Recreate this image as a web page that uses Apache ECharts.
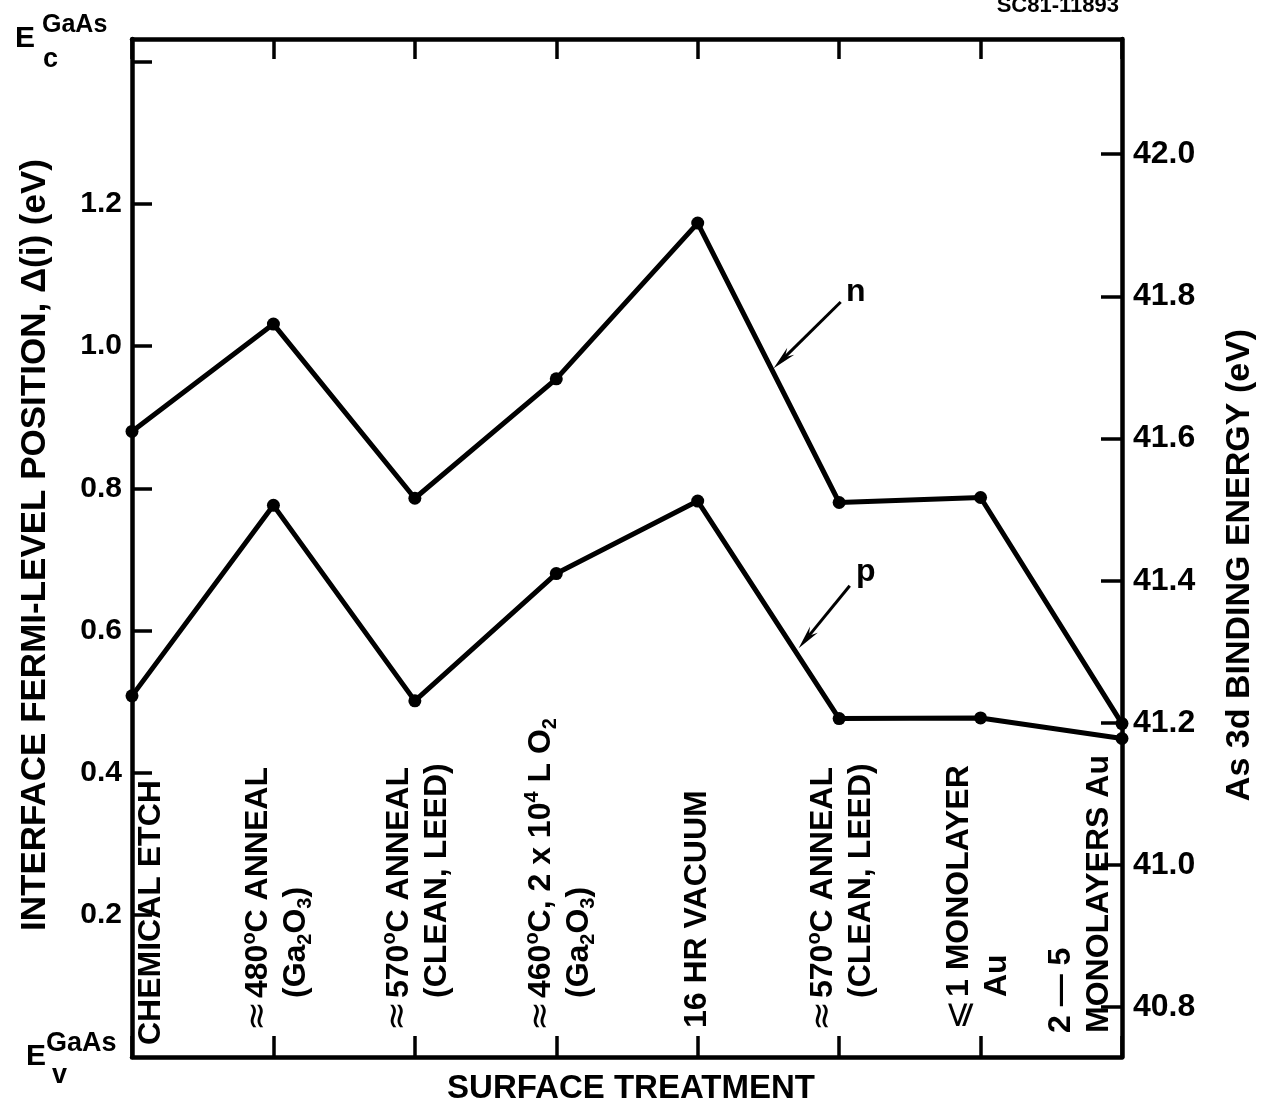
<!DOCTYPE html>
<html>
<head>
<meta charset="utf-8">
<script src="https://cdn.jsdelivr.net/npm/echarts@6/dist/echarts.min.js"></script>
<style>
  html, body { margin: 0; padding: 0; background: #fff; }
  #chart { width: 1263px; height: 1110px; }
</style>
</head>
<body>
<div id="chart"></div>
<script>
// Surface treatments, in the order they were applied
const categories = [
  'CHEMICAL ETCH',
  '≈ 480°C ANNEAL (Ga2O3)',
  '≈ 570°C ANNEAL (CLEAN, LEED)',
  '≈ 460°C, 2 x 10^4 L O2 (Ga2O3)',
  '16 HR VACUUM',
  '≈ 570°C ANNEAL (CLEAN, LEED)',
  '⩽ 1 MONOLAYER Au',
  '2 – 5 MONOLAYERS Au'
];

// Rotated category captions: optional prefix symbol, then one or two lines (rich text)
const categoryPrefix = ['', '≈', '≈', '≈', '', '≈', '⩽', ''];
const categoryLines = [
  ['CHEMICAL ETCH'],
  ['480{sup|o}C ANNEAL', '(Ga{sub|2}O{sub|3})'],
  ['570{sup|o}C ANNEAL', '(CLEAN, LEED)'],
  ['460{sup|o}C, 2 x 10{sup|4} L O{sub|2}', '(Ga{sub|2}O{sub|3})'],
  ['16 HR VACUUM'],
  ['570{sup|o}C ANNEAL', '(CLEAN, LEED)'],
  ['1 MONOLAYER', 'Au'],
  ['2 — 5', 'MONOLAYERS Au']
];

// Interface Fermi-level position Δ(i) in eV above E_v (GaAs)
const nType = [0.880, 1.031, 0.786, 0.954, 1.173, 0.780, 0.787, 0.469];
const pType = [0.508, 0.776, 0.501, 0.680, 0.782, 0.476, 0.477, 0.448];

// Axis tick labels
const fermiTickLabels = ['0.2', '0.4', '0.6', '0.8', '1.0', '1.2'];
const bindingTickLabels = ['40.8', '41.0', '41.2', '41.4', '41.6', '41.8', '42.0'];

// GaAs band gap sets the top of the Fermi-level scale; the As 3d scale is offset from it
const bandGap = 1.432;
const bindingMin = 40.730;

const FONT = "'Liberation Sans', Arial, Helvetica, sans-serif";
const chart = echarts.init(document.getElementById('chart'), null, { renderer: 'canvas' });

const axisLineStyle = { color: '#000', width: 4.5 };
const tickStyle = { color: '#000', width: 3.5 };

const lineSeries = (name, values) => ({
  name,
  type: 'line',
  data: values.map((v, i) => [i, v]),
  symbol: 'circle',
  symbolSize: 13,
  lineStyle: { color: '#000', width: 5 },
  itemStyle: { color: '#000' },
  z: 3,
  animation: false
});

const frameAxis = (extra, tickLen) => Object.assign({
  axisLine: { show: true, onZero: false, lineStyle: axisLineStyle },
  axisTick: { show: true, inside: true, length: tickLen, lineStyle: tickStyle },
  splitLine: { show: false }
}, extra);

chart.setOption({
  animation: false,
  backgroundColor: '#fff',
  grid: { left: 132, right: 141, top: 39, bottom: 53, outerBoundsMode: 'none' },
  xAxis: [
    frameAxis({
      type: 'value', min: 0, max: categories.length - 1, interval: 1, position: 'bottom',
      axisLabel: { show: false }
    }, 21),
    frameAxis({
      type: 'value', min: 0, max: categories.length - 1, interval: 1, position: 'top',
      axisLabel: { show: false }
    }, 20)
  ],
  yAxis: [
    frameAxis({
      type: 'value', min: 0, max: bandGap, interval: 0.2, position: 'left',
      axisLabel: {
        show: true, margin: 10, color: '#000', fontSize: 30, fontWeight: 'bold', fontFamily: FONT,
        showMinLabel: false, showMaxLabel: false,
        formatter: v => { const s = v.toFixed(1); return fermiTickLabels.includes(s) ? s : ''; }
      }
    }, 20),
    frameAxis({
      type: 'value', min: bindingMin, max: bindingMin + bandGap, splitNumber: 7, position: 'right',
      axisLabel: {
        show: true, margin: 11, color: '#000', fontSize: 32, fontWeight: 'bold', fontFamily: FONT,
        showMinLabel: false, showMaxLabel: false,
        formatter: v => { const s = v.toFixed(1); return bindingTickLabels.includes(s) ? s : ''; }
      }
    }, 21)
  ],
  series: [lineSeries('n', nType), lineSeries('p', pType)]
});

// ---- text and annotations placed through the axes ----
const toPx = (x, y) => chart.convertToPixel({ xAxisIndex: 0, yAxisIndex: 0 }, [x, y]);
const axisY = toPx(0, 0)[1];
const graphics = [];

const txt = (text, x, y, size, opts = {}) => Object.assign({
  type: 'text', x, y, silent: true, z: 10,
  style: Object.assign({
    text, fill: '#000', fontFamily: FONT, fontWeight: 'bold', fontSize: size,
    align: 'left', textAlign: 'left', verticalAlign: 'middle', textVerticalAlign: 'middle'
  }, opts.style || {})
}, opts.el || {});

// Category captions, rotated to read upward from the bottom axis
const captionShift = [19, 4, 3, 4, -1, 3, -2, -42];   // block centre relative to tick, px
const captionRise = [12, 59, 59, 59, 29, 59, 60, 24]; // start of text above the axis, px
const richSub = {
  sup: { fontSize: 20, fontWeight: 'bold', fontFamily: FONT, verticalAlign: 'top', lineHeight: 38 },
  sub: { fontSize: 20, fontWeight: 'bold', fontFamily: FONT, verticalAlign: 'bottom', lineHeight: 38 }
};
categories.forEach((c, i) => {
  const tx = toPx(i, 0)[0];
  const lines = categoryLines[i];
  const cx = tx + captionShift[i];
  const startY = axisY - captionRise[i];
  const lineH = 38;
  graphics.push(txt(lines.join('\n'), cx, startY, 32, {
    el: { rotation: Math.PI / 2 },
    style: { lineHeight: lineH, rich: richSub }
  }));
  if (categoryPrefix[i]) {
    const firstLineX = cx - (lines.length - 1) * lineH / 2;
    graphics.push(txt(categoryPrefix[i], firstLineX, startY + 33, 36, {
      el: { rotation: Math.PI / 2 },
      style: { fontWeight: 'normal', fontFamily: "'DejaVu Sans', " + FONT }
    }));
  }
});

// Band-edge labels
graphics.push(txt('E', 15, 39, 30));
graphics.push(txt('GaAs', 42, 25, 25));
graphics.push(txt('c', 43, 60, 27));
const ev = axisY;
graphics.push(txt('E', 26, ev, 30));
graphics.push(txt('GaAs', 46, ev - 13, 27));
graphics.push(txt('v', 52, ev + 19, 27));

// Axis titles
graphics.push(txt('INTERFACE FERMI-LEVEL POSITION, Δ(i) (eV)', 35, 545, 35, {
  el: { rotation: Math.PI / 2 }, style: { align: 'center', textAlign: 'center' }
}));
graphics.push(txt('As 3d BINDING ENERGY (eV)', 1240, 565, 34, {
  el: { rotation: Math.PI / 2 }, style: { align: 'center', textAlign: 'center' }
}));
graphics.push(txt('SURFACE TREATMENT', 631, 1089, 33, {
  style: { align: 'center', textAlign: 'center' }
}));
graphics.push(txt('SC81-11893', 1119, 6, 22, {
  style: { align: 'right', textAlign: 'right' }
}));

// Curve identifiers with arrows pointing at each curve
const callouts = [
  { label: 'n', at: [5.117, 1.076], from: [5.011, 1.062], to: [4.537, 0.969] },
  { label: 'p', at: [5.188, 0.682], from: [5.075, 0.663], to: [4.714, 0.575] }
];
callouts.forEach(co => {
  const [lx, ly] = toPx(co.at[0], co.at[1]);
  graphics.push(txt(co.label, lx, ly, 32, { style: { align: 'center', textAlign: 'center' } }));
  const a = toPx(co.from[0], co.from[1]);
  const b = toPx(co.to[0], co.to[1]);
  const dx = b[0] - a[0], dy = b[1] - a[1];
  const len = Math.hypot(dx, dy);
  const ux = dx / len, uy = dy / len, nx = -uy, ny = ux;
  const headLen = 24, halfW = 5, notch = 16;
  graphics.push({
    type: 'line', silent: true, z: 9,
    shape: { x1: a[0], y1: a[1], x2: b[0] - ux * notch, y2: b[1] - uy * notch },
    style: { stroke: '#000', lineWidth: 3 }
  });
  graphics.push({
    type: 'polygon', silent: true, z: 9,
    shape: { points: [
      [b[0], b[1]],
      [b[0] - ux * headLen + nx * halfW, b[1] - uy * headLen + ny * halfW],
      [b[0] - ux * notch, b[1] - uy * notch],
      [b[0] - ux * headLen - nx * halfW, b[1] - uy * headLen - ny * halfW]
    ] },
    style: { fill: '#000' }
  });
});

chart.setOption({ graphic: graphics });
</script>
</body>
</html>
